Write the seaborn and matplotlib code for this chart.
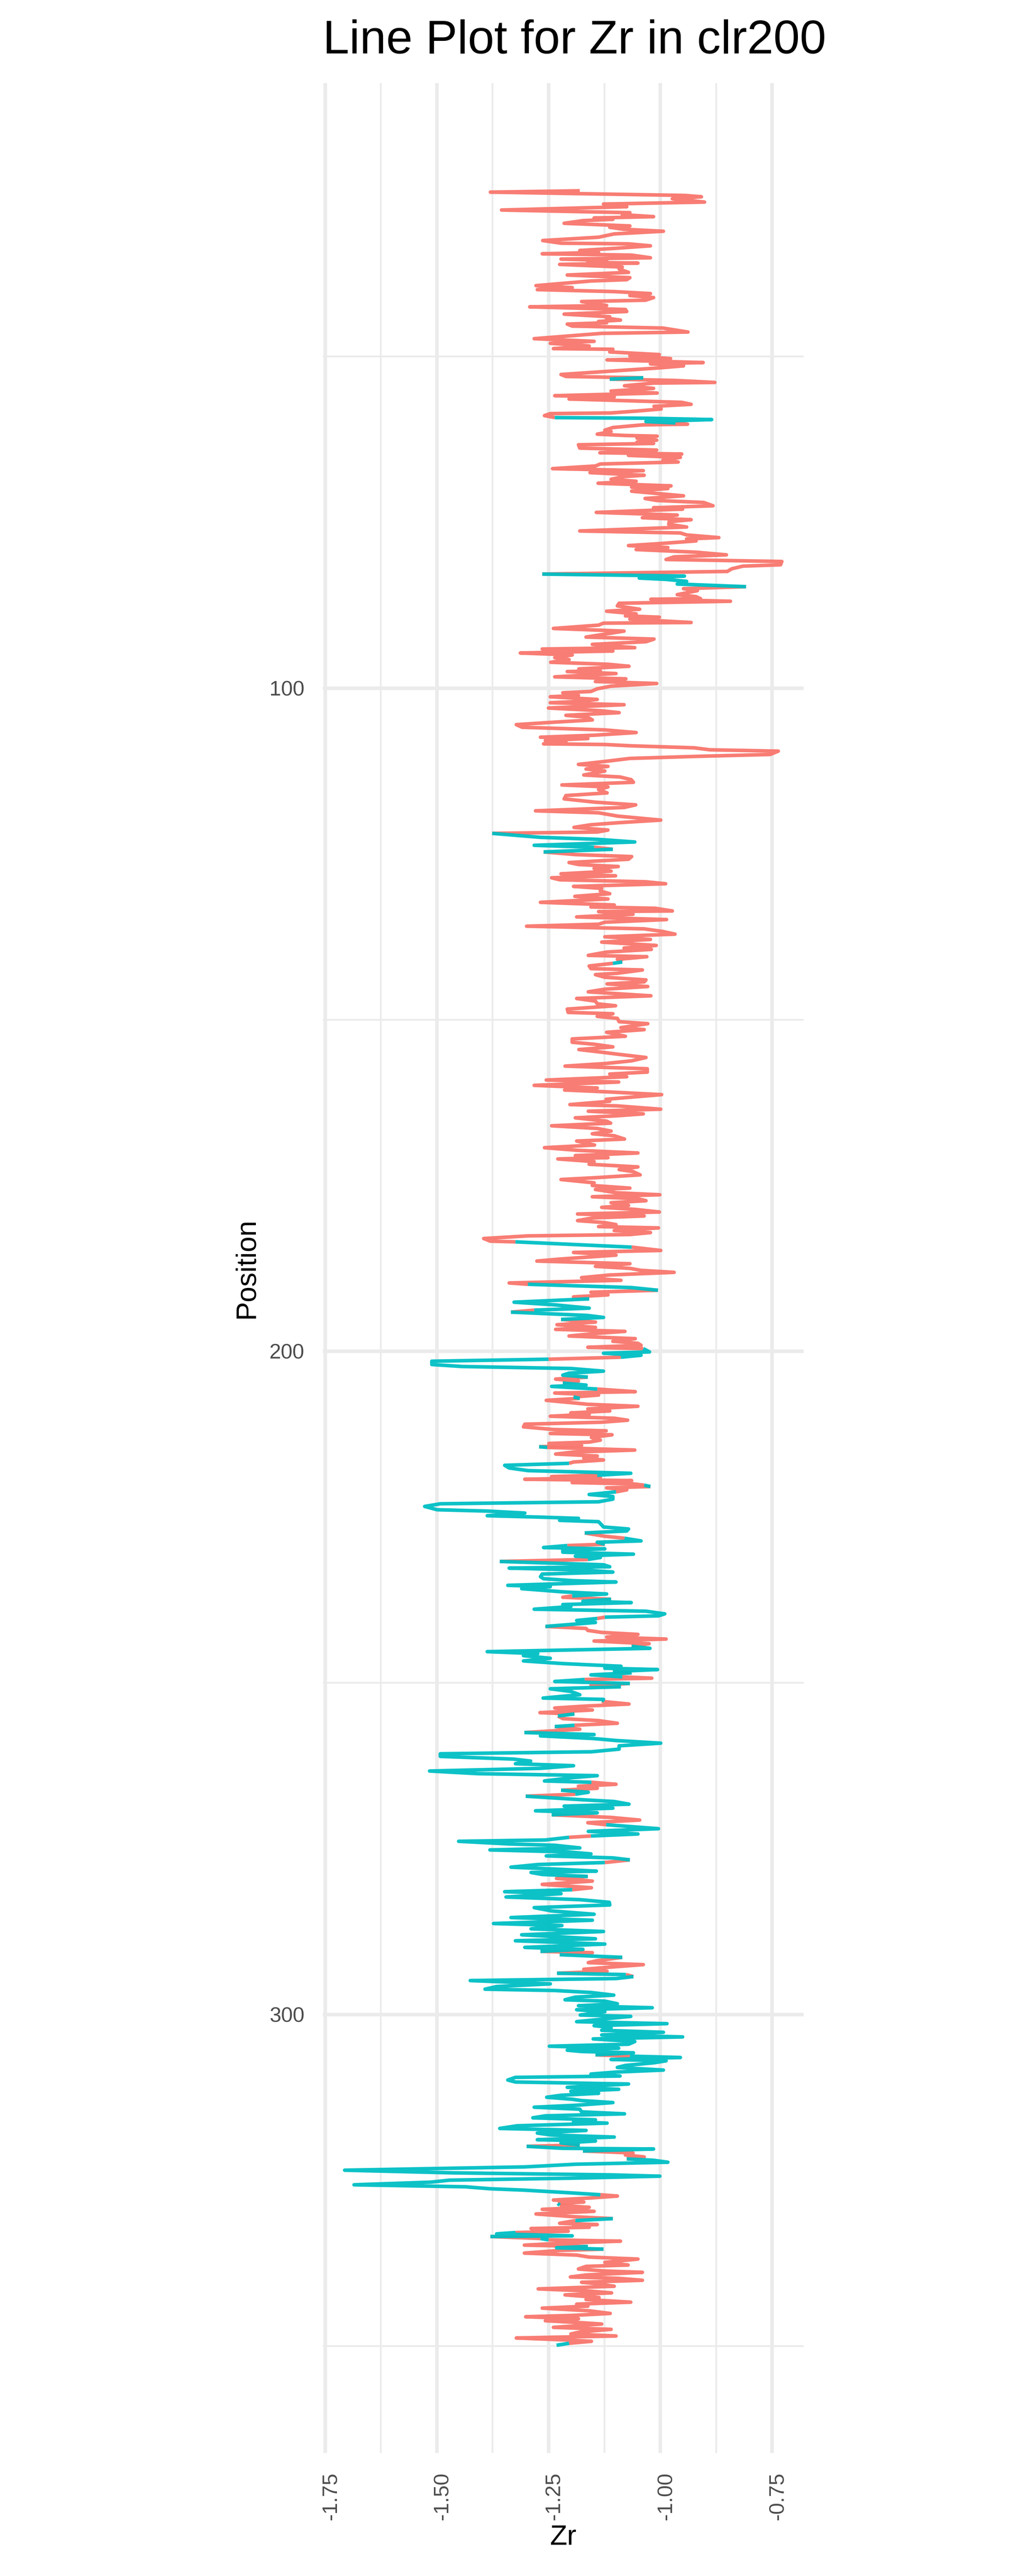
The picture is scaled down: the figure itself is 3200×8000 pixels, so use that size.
import matplotlib
matplotlib.use("Agg")
import matplotlib.pyplot as plt
import matplotlib.transforms as mtransforms
from matplotlib.ticker import MultipleLocator, FormatStrFormatter
import pandas as pd
import seaborn as sns

# --- data, top to bottom ---
# section codes: "a" = first section (red), "b" = second section (teal)

depth_1 = [25.0, 25.2, 25.7, 25.9, 26.2, 26.7, 27.0, 27.4, 27.9, 28.3,
           28.6, 28.9, 29.1, 29.3, 29.5, 29.9, 30.3, 30.5, 30.8, 31.1,
           31.5, 32.0, 32.5, 32.9, 33.0, 33.3, 33.7, 34.0, 34.3, 34.5,
           34.7, 35.1, 35.3, 35.5, 35.8, 35.9, 36.1, 36.5, 36.8, 37.3,
           37.7, 38.1, 38.4, 38.6, 39.3, 39.6, 39.9, 40.2, 40.5, 40.8,
           41.1, 41.5, 41.7, 42.3, 42.5, 42.9, 43.2, 43.6, 44.0, 44.2,
           44.5, 44.7, 44.9, 45.1, 45.4, 45.7, 46.3, 46.5, 47.3, 47.7,
           48.0, 48.4, 48.8, 48.9, 49.3, 49.7, 49.9, 50.3, 50.5, 50.9,
           51.1, 51.4, 51.7, 52.7, 53.0, 53.2, 53.4, 53.6, 53.9, 54.0,
           54.4, 54.8, 55.2, 55.5, 55.9, 56.1, 56.4, 56.9, 57.2]
zr_1 = [-1.180, -1.380, -0.945, -0.908, -0.973, -0.901, -1.127, -1.075, -1.355, -1.068,
        -1.085, -1.015, -1.148, -1.106, -1.173, -1.215, -1.068, -1.113, -1.082, -0.993,
        -1.103, -1.138, -1.263, -1.222, -1.071, -1.022, -1.106, -1.180, -1.138, -1.264,
        -1.064, -1.022, -1.222, -1.120, -1.162, -1.050, -1.225, -1.085, -1.092, -1.071,
        -1.208, -1.068, -1.075, -1.155, -1.278, -1.197, -1.275, -1.103, -1.022, -1.068,
        -1.015, -1.033, -1.176, -1.120, -1.292, -1.078, -1.075, -1.215, -1.113, -1.120,
        -1.089, -1.138, -1.120, -1.208, -1.197, -0.994, -0.938, -1.131, -1.282, -1.148,
        -1.246, -1.159, -1.239, -1.106, -1.113, -1.002, -1.068, -0.977, -1.119, -0.904,
        -1.022, -0.948, -1.001, -1.222, -1.211, -1.038, -1.113, -0.966, -0.878, -1.015,
        -1.080, -1.015, -1.110, -1.007, -1.236, -1.103, -1.204, -0.952, -0.931]
section_1 = ("aaaaaaaaaa" "aaaaaaaaaa" "aaaaaaaaaa" "aaaaaaaaaa" "aaaaaaaaaa"
             "aaaaaaaaaa" "aaaaaaaaaa" "aaaaaaaaaa" "aaaaabaaaa" "aaaaaaaaa")

depth_2 = [57.5, 57.9, 58.2, 58.5, 58.6, 58.9, 59.2, 59.3, 59.5, 59.8,
           60.0, 60.2, 60.3, 60.7, 61.1, 61.3, 61.7, 61.9, 62.0, 62.3,
           62.6, 62.9, 63.1, 63.3, 63.8, 64.1, 64.5, 64.7, 64.9, 65.2,
           65.6, 65.9, 66.2, 66.5, 66.9, 67.2, 67.5, 67.9, 68.1, 68.5,
           68.8, 69.1, 69.5, 69.7, 69.9, 70.3, 70.6, 71.0, 71.4, 71.7,
           72.0, 72.5, 72.8, 73.0, 73.5, 73.7, 73.9, 74.3, 74.6, 74.9,
           75.3, 75.7, 76.3, 76.6, 76.9, 77.3, 77.5, 77.8, 78.2, 78.5,
           78.8, 79.1, 79.5, 79.9, 80.2, 80.6, 80.9, 81.4, 81.6, 82.0,
           82.4, 82.8, 83.1, 83.4, 83.6, 83.9, 84.3, 84.7, 85.0, 85.3,
           85.9, 86.2, 86.5, 86.6, 86.9, 87.2, 87.6, 88.1, 88.4, 88.8,
           89.1, 89.3, 89.6, 90.1, 90.2, 90.5, 91.0, 91.4]
zr_2 = [-1.014, -0.998, -1.050, -1.110, -1.246, -1.259, -1.236, -1.029, -0.885, -1.032,
        -0.966, -0.939, -1.040, -1.106, -1.124, -1.110, -1.141, -1.078, -1.007, -1.052,
        -1.008, -1.052, -1.015, -1.183, -1.180, -1.008, -1.135, -0.952, -1.071, -0.955,
        -0.994, -0.960, -1.134, -1.145, -1.241, -1.038, -1.157, -1.036, -1.082, -1.110,
        -1.054, -1.139, -0.976, -1.064, -0.983, -1.064, -1.015, -0.948, -1.034, -1.008,
        -0.903, -0.882, -1.015, -0.950, -1.143, -1.050, -0.962, -1.040, -0.931, -0.980,
        -0.981, -0.941, -1.180, -0.955, -0.941, -0.869, -0.941, -0.920, -1.001, -1.071,
        -0.983, -1.054, -0.920, -0.852, -0.969, -0.987, -0.728, -0.731, -0.815, -0.840,
        -0.850, -1.264, -0.946, -1.047, -0.987, -0.941, -0.962, -0.808, -0.948, -0.917,
        -0.962, -0.920, -0.910, -1.021, -0.843, -1.092, -1.096, -1.046, -1.120, -1.054,
        -1.078, -1.002, -1.068, -0.931, -1.127, -1.138, -1.239, -1.081]
section_2 = ("aaaaaabbbb" "aaaaaaaaaa" "aaaaaaaaaa" "aaaaaaaaaa" "aaaaaaaaaa"
             "aaaaaaaaaa" "aaaaaaaaaa" "aaaaaaaaaa" "abbbbbbaaa" "aaaaaaaaaa"
             "aaaaaaaa")

depth_3 = [92.3, 92.6, 93.0, 93.4, 93.9, 94.1, 94.4, 94.7, 95.0, 95.4,
           95.7, 96.1, 96.4, 96.7, 97.1, 97.4, 97.5, 97.8, 98.3, 98.6,
           99.0, 99.3, 99.7, 100.1, 100.5, 100.7, 101.1, 101.3, 101.7, 102.0,
           102.2, 102.5, 103.0, 103.4, 103.7, 104.1, 104.4, 104.8, 105.1, 105.5,
           105.9, 106.3, 106.7, 107.1, 107.4, 107.6, 107.9, 108.1, 108.4, 108.5,
           108.7, 109.0, 109.3, 109.5, 110.0, 110.3, 110.6, 111.0, 111.5, 111.8,
           112.2, 112.5, 113.1, 113.4, 113.8, 114.2, 114.6, 114.9, 115.3, 115.8,
           116.2, 116.7, 117.2, 117.6, 118.0, 118.5, 118.8, 119.3, 119.9, 120.3,
           120.6, 121.0, 121.4, 121.7, 121.9, 122.5, 122.8, 123.2, 123.7, 124.0,
           124.3, 124.7, 125.1, 125.4, 125.8, 126.3, 126.6, 126.9, 127.2, 127.6,
           128.0, 128.3, 128.6, 128.9, 129.2, 129.5, 129.9, 130.2, 130.6, 131.0,
           131.4, 131.8, 132.3, 132.7, 133.0, 133.2, 133.6, 133.7, 134.1, 134.5,
           134.9, 135.3, 135.6, 135.9, 136.3, 136.7, 137.1, 137.5, 137.9, 138.3,
           138.8, 139.2]
zr_3 = [-1.166, -1.014, -1.032, -1.152, -1.057, -1.264, -1.106, -1.313, -1.197, -1.236,
        -1.204, -1.245, -1.117, -1.070, -1.182, -1.134, -1.208, -1.099, -1.236, -1.077,
        -1.145, -1.008, -1.110, -1.141, -1.155, -1.218, -1.183, -1.246, -1.141, -1.180,
        -1.246, -1.081, -1.250, -1.134, -1.092, -1.211, -1.162, -1.152, -1.229, -1.322,
        -1.309, -1.124, -1.054, -1.148, -1.268, -1.162, -1.257, -1.211, -1.261, -1.124,
        -1.064, -0.924, -0.889, -0.736, -0.754, -0.924, -1.068, -1.117, -1.183, -1.117,
        -1.166, -1.124, -1.171, -1.090, -1.065, -1.060, -1.220, -1.117, -1.138, -1.119,
        -1.211, -1.215, -1.145, -1.055, -1.081, -1.279, -1.138, -1.095, -0.999, -1.095,
        -1.155, -1.193, -1.117, -1.141, -1.376, -1.268, -1.141, -1.057, -1.282, -1.148,
        -1.106, -1.261, -1.190, -1.064, -1.071, -1.204, -1.183, -1.094, -1.148, -1.110,
        -1.222, -1.100, -1.243, -1.225, -1.033, -0.988, -1.194, -1.131, -1.134, -1.113,
        -1.191, -1.117, -1.268, -1.103, -1.155, -1.011, -0.973, -1.138, -1.061, -1.187,
        -0.986, -1.124, -1.138, -1.299, -1.036, -0.994, -0.967, -1.124, -1.022, -1.131,
        -1.009, -1.081]
section_3 = ("aaaaaaaaaa" "aaaaaaaaaa" "aaaaaaaaaa" "aaaaaaaaaa" "aaaaaaaaaa"
             "aaaaaaaaaa" "aaaaaaaaaa" "aaaaaaaaaa" "aaaabbbbba" "baaaaaaaaa"
             "aaaaaaaaaa" "aaaaaaaaaa" "aaaaaaaaaa" "aa")

depth_4 = [139.4, 139.8, 140.3, 140.5, 140.9, 141.3, 141.5, 141.9, 142.3, 142.5,
           143.0, 143.2, 143.6, 144.0, 144.3, 144.6, 145.0, 145.4, 145.8, 146.4,
           146.8, 147.2, 147.6, 147.9, 148.4, 148.9, 149.1, 149.5, 149.8, 150.3,
           150.6, 151.2, 151.5, 151.9, 152.5, 152.9, 153.4, 153.7, 154.1, 154.5,
           154.9, 155.2, 155.7, 156.2, 156.6, 157.0, 157.4, 157.9, 158.2, 158.6,
           159.1, 159.4, 159.9, 160.3, 160.6, 160.9, 161.3, 161.7, 162.0, 162.3,
           162.8, 163.0, 163.5, 163.8, 164.2, 164.5, 164.8, 165.3, 165.6, 166.0,
           166.4, 166.8, 167.2, 167.5, 168.0, 168.3, 168.9, 169.3, 169.7, 170.1,
           170.5, 170.8, 171.0, 171.4, 171.8, 172.2, 172.6, 172.9, 173.4, 173.8,
           174.1, 174.6, 175.0, 175.4, 175.6, 176.1, 176.4, 176.7, 177.0, 177.3,
           177.6, 178.0, 178.3, 178.6, 179.0, 179.3, 179.6, 179.9, 180.3, 180.6,
           180.9, 181.2, 181.4, 181.8, 182.1, 182.4, 182.6, 183.0, 183.4, 183.5,
           184.3, 184.8, 185.1, 185.5, 186.1, 186.4, 186.8, 187.2]
zr_4 = [-1.020, -1.120, -1.161, -1.030, -1.096, -1.085, -1.106, -1.159, -1.155, -1.040,
        -1.096, -1.145, -1.124, -1.032, -1.036, -1.119, -1.028, -1.124, -1.161, -1.021,
        -1.187, -1.145, -1.141, -1.100, -1.208, -1.206, -1.106, -1.141, -1.096, -1.092,
        -1.028, -1.088, -1.036, -1.120, -1.078, -1.197, -1.197, -1.148, -1.106, -1.182,
        -1.131, -1.096, -1.032, -1.064, -1.121, -1.213, -1.029, -1.029, -1.113, -1.075,
        -1.255, -1.093, -1.282, -1.141, -1.214, -1.113, -0.997, -1.068, -1.121, -1.113,
        -1.202, -1.096, -0.999, -1.161, -1.038, -1.099, -1.190, -1.120, -1.111, -1.243,
        -1.141, -1.110, -1.152, -1.103, -1.080, -1.187, -1.147, -1.259, -1.185, -1.050,
        -1.190, -1.117, -1.229, -1.148, -1.159, -1.050, -1.092, -1.061, -1.045, -1.138,
        -1.222, -1.148, -1.152, -1.068, -1.145, -1.098, -1.001, -1.152, -1.050, -1.032,
        -1.110, -1.071, -1.131, -1.057, -1.002, -1.185, -1.036, -1.152, -1.185, -1.124,
        -1.099, -1.138, -1.004, -1.103, -1.022, -1.068, -1.296, -1.395, -1.380, -1.324,
        -1.064, -0.999, -1.194, -1.099, -1.225, -1.276, -1.068, -1.145]
section_4 = ("aaaaabaaaa" "aaaaaaaaaa" "aaaaaaaaaa" "aaaaaaaaaa" "aaaaaaaaaa"
             "aaaaaaaaaa" "aaaaaaaaaa" "aaaaaaaaaa" "aaaaaaaaaa" "aaaaaaaaaa"
             "aaaaaaaaaa" "aaaaaaaaab" "aaaaaaaa")

depth_5 = [187.5, 187.8, 188.1, 188.5, 188.9, 189.3, 189.7, 189.9, 190.4, 190.8,
           191.1, 191.5, 191.8, 192.1, 192.6, 193.0, 193.5, 193.8, 194.1, 194.6,
           194.9, 195.2, 195.6, 196.0, 196.4, 196.7, 197.0, 197.3, 197.7, 198.1,
           198.5, 198.8, 199.1, 199.4, 199.6, 200.1, 200.3, 200.6, 200.9, 201.2,
           201.5, 202.0, 202.3, 202.6, 203.0, 203.3, 203.6, 203.9, 204.2, 204.5,
           204.8, 205.1, 205.3, 205.7, 206.1, 206.3, 206.6, 206.9, 207.1, 207.4,
           207.8, 208.0, 208.3, 208.7, 209.0, 209.3, 209.5, 209.8, 210.1, 210.4,
           210.7, 211.0, 211.4, 211.8, 212.0, 212.4, 212.6, 213.0, 213.4, 213.7,
           213.9, 214.2, 214.4, 214.5, 214.9, 215.2, 215.5, 215.8, 216.1, 216.4,
           216.7, 216.9, 217.2, 217.6, 218.0, 218.2, 218.4, 218.7, 218.9, 219.1,
           219.3, 219.5, 219.8, 220.0, 220.2, 220.4, 220.6, 220.9, 221.2, 221.6,
           221.9, 222.3, 222.7, 223.0, 223.4, 223.9, 224.1, 224.4, 224.8, 225.0,
           225.2, 225.5, 225.7, 226.2, 226.5, 226.8, 227.1, 227.4, 227.9, 228.2,
           228.6, 228.8, 229.1, 229.3, 229.6, 229.8, 230.0, 230.3, 230.6, 230.9,
           231.1, 231.4, 231.7, 232.2, 232.5, 232.7, 233.0, 233.3, 233.6, 234.0,
           234.3, 234.6, 234.8, 235.3]
zr_5 = [-1.068, -1.043, -0.969, -1.113, -1.176, -1.088, -1.338, -1.296, -1.064, -1.005,
        -1.155, -1.117, -1.194, -1.159, -1.327, -1.236, -1.159, -1.282, -1.334, -1.163,
        -1.127, -1.222, -1.145, -1.231, -1.145, -1.234, -1.079, -1.141, -1.204, -1.056,
        -1.106, -1.050, -1.043, -1.162, -1.038, -1.024, -1.127, -1.043, -1.088, -1.250,
        -1.511, -1.511, -1.443, -1.200, -1.127, -1.204, -1.218, -1.162, -1.234, -1.183,
        -1.218, -1.166, -1.243, -1.141, -1.056, -1.236, -1.138, -1.194, -1.180, -1.255,
        -1.192, -1.162, -1.050, -1.162, -1.113, -1.200, -1.159, -1.246, -1.103, -1.073,
        -1.131, -1.303, -1.306, -1.239, -1.121, -1.246, -1.108, -1.154, -1.134, -1.159,
        -1.249, -1.176, -1.271, -1.253, -1.057, -1.194, -1.234, -1.141, -1.171, -1.127,
        -1.194, -1.204, -1.348, -1.338, -1.296, -1.183, -1.066, -1.141, -1.243, -1.134,
        -1.303, -1.064, -1.197, -1.060, -1.036, -1.022, -1.120, -1.075, -1.099, -1.159,
        -1.106, -1.106, -1.138, -1.492, -1.527, -1.499, -1.387, -1.303, -1.387, -1.275,
        -1.183, -1.225, -1.138, -1.131, -1.127, -1.071, -1.075, -1.169, -1.124, -1.080,
        -1.043, -1.141, -1.124, -1.208, -1.261, -1.124, -1.218, -1.218, -1.060, -1.190,
        -1.134, -1.162, -1.359, -1.127, -1.113, -1.338, -1.169, -1.106, -1.264, -1.268,
        -1.261, -1.194, -1.099, -1.341]
section_5 = ("aaaaaaabba" "aaabbbbabb" "baaaaaaaaa" "aaaabbbbab" "bbbbbbbaaa"
             "bbbaaaabaa" "aaaaaaaaaa" "aaaaaaaaaa" "aabaaaaaaa" "abbbbbbaaa"
             "aaaabaaabb" "bbbbbbbbbb" "bbbbbbbaab" "bbabbbbbbb" "babbbbbbbb"
             "bbbb")

depth_6 = [235.5, 235.8, 236.3, 236.6, 236.9, 237.1, 237.4, 237.7, 237.9, 238.2,
           238.5, 238.9, 239.2, 239.6, 239.9, 240.1, 240.3, 240.6, 240.9, 241.5,
           241.8, 242.1, 242.4, 242.7, 243.1, 243.4, 243.7, 244.1, 244.5, 244.8,
           245.3, 245.6, 245.9, 246.3, 246.7, 247.1, 247.3, 247.5, 247.8, 248.0,
           248.3, 248.5, 248.8, 249.1, 249.3, 249.5, 249.8, 250.1, 250.4, 250.6,
           250.9, 251.3, 251.8, 252.3, 252.5, 252.8, 253.2, 253.5, 253.8, 254.1,
           254.5, 254.7, 255.0, 255.4, 255.7, 256.1, 256.4, 256.6, 257.0, 257.5,
           257.8, 258.0, 258.4, 258.7, 259.1, 259.5, 260.0, 260.4, 260.7, 261.1,
           261.5, 261.8, 262.2, 262.5, 262.9, 263.3, 263.7, 264.0, 264.3, 264.8,
           265.0, 265.3, 265.6, 265.9, 266.2, 266.5, 266.8, 267.1, 267.6, 267.9,
           268.3, 268.6, 268.9, 269.3, 269.6, 269.9, 270.3, 270.7, 271.1, 271.4,
           272.0, 272.4, 272.8, 273.1, 273.3, 273.7, 273.9, 274.3, 274.5, 274.9,
           275.2, 275.5, 275.8, 276.1, 276.4, 276.7, 277.1, 277.4, 277.8, 278.1,
           278.4, 278.6, 278.9, 279.2, 279.5, 279.9, 280.4, 280.9, 281.2, 281.5,
           281.8, 282.3, 282.7, 283.1]
zr_6 = [-1.246, -1.310, -1.215, -1.120, -1.197, -1.218, -1.110, -1.173, -1.065, -1.218,
        -1.200, -1.282, -1.032, -0.990, -1.004, -1.124, -1.141, -1.187, -1.145, -1.257,
        -1.166, -1.162, -1.131, -1.050, -1.120, -0.987, -1.148, -1.025, -1.064, -1.023,
        -1.387, -1.274, -1.306, -1.246, -1.306, -1.218, -1.155, -1.088, -1.124, -1.006,
        -1.106, -1.064, -1.155, -1.085, -1.019, -1.169, -1.236, -1.068, -1.155, -1.088,
        -1.246, -1.200, -1.180, -1.262, -1.127, -1.131, -1.070, -1.165, -1.236, -1.152,
        -1.269, -1.192, -1.229, -1.218, -1.138, -1.096, -1.192, -1.236, -1.180, -1.304,
        -1.148, -1.268, -1.150, -1.099, -0.999, -1.092, -1.092, -1.154, -1.492, -1.492,
        -1.329, -1.290, -1.324, -1.194, -1.268, -1.516, -1.408, -1.141, -1.197, -1.259,
        -1.154, -1.099, -1.183, -1.141, -1.222, -1.161, -1.190, -1.301, -1.183, -1.103,
        -1.070, -1.215, -1.106, -1.279, -1.141, -1.243, -1.110, -1.046, -1.162, -1.121,
        -1.004, -1.161, -1.050, -1.155, -1.204, -1.257, -1.451, -1.338, -1.236, -1.180,
        -1.381, -1.208, -1.155, -1.255, -1.106, -1.068, -1.124, -1.273, -1.334, -1.232,
        -1.143, -1.289, -1.264, -1.162, -1.232, -1.152, -1.264, -1.154, -1.197, -1.348,
        -1.222, -1.345, -1.180, -1.114]
section_6 = ("bbbbaabbbb" "bbbbbabbba" "aaaaaaaabb" "bbbbbbbbbb" "abbaabbaab"
             "bbbbbaaaaa" "abaaaabaab" "bbbbbbbbbb" "bbbbbbbbbb" "aaaabbabbb"
             "bbbbbaaaab" "bbbabbbbbb" "bbbbbabbbb" "bbbaaaaabb" "bbbb")

depth_7 = [283.5, 283.9, 284.4, 284.9, 285.4, 285.8, 286.3, 286.6, 287.1, 287.5,
           288.0, 288.6, 288.9, 289.4, 289.9, 290.2, 290.5, 290.7, 291.0, 291.4,
           291.9, 292.2, 292.5, 292.9, 293.2, 293.5, 293.8, 294.0, 294.3, 294.6,
           294.9, 295.4, 295.8, 296.2, 296.4, 296.7, 297.1, 297.4, 297.8, 298.0,
           298.4, 298.7, 299.0, 299.3, 299.6, 300.1, 300.3, 300.7, 301.1, 301.4,
           301.7, 302.0, 302.4, 302.7, 303.1, 303.4, 303.7, 304.1, 304.5, 304.8,
           305.1, 305.4, 305.6, 305.8, 306.1, 306.3, 306.5, 306.8, 307.0, 307.3,
           307.7, 308.0, 308.4, 308.7, 309.0, 309.3, 309.5, 309.9, 310.2, 310.5,
           311.0, 311.3, 311.6, 311.9, 312.2, 312.5, 312.8, 313.0, 313.3, 313.7,
           314.0, 314.3, 314.7, 315.0, 315.3, 315.6, 315.9, 316.2, 316.4, 316.8,
           317.2, 317.5, 317.9, 318.2, 318.5, 318.9, 319.1, 319.4, 319.7, 319.9,
           320.2, 320.3, 320.6, 320.9, 321.2, 321.5, 321.8, 322.0, 322.3, 322.6,
           323.0, 323.5, 323.9, 324.2, 324.4, 324.7, 325.0, 325.3, 325.7, 326.0,
           326.3, 326.5, 326.9, 327.2, 327.4, 327.7, 328.0, 328.3, 328.5, 328.8,
           329.1, 329.4, 329.7, 330.1, 330.5, 330.8, 331.1, 331.5, 331.7]
zr_7 = [-1.113, -1.282, -1.243, -1.148, -1.334, -1.152, -1.373, -1.220, -1.289, -1.127,
        -1.310, -1.145, -1.324, -1.124, -1.303, -1.173, -1.268, -1.152, -1.225, -1.085,
        -1.141, -1.161, -1.038, -1.117, -1.171, -1.119, -1.231, -1.077, -1.060, -1.099,
        -1.425, -1.246, -1.366, -1.392, -1.236, -1.155, -1.104, -1.190, -1.213, -1.124,
        -1.096, -1.183, -1.018, -1.187, -1.124, -1.179, -1.066, -1.127, -1.187, -0.985,
        -1.148, -1.110, -1.131, -0.993, -1.131, -0.950, -1.150, -1.057, -1.071, -1.248,
        -1.093, -1.208, -1.176, -1.060, -1.145, -1.068, -0.955, -1.110, -0.987, -1.014,
        -1.078, -1.096, -0.993, -1.099, -1.155, -1.090, -1.324, -1.341, -1.324, -1.071,
        -1.208, -1.093, -1.200, -1.138, -1.222, -1.254, -1.197, -1.176, -1.106, -1.187,
        -1.282, -1.180, -1.176, -1.080, -1.257, -1.285, -1.145, -1.194, -1.119, -1.320,
        -1.359, -1.166, -1.275, -1.243, -1.103, -1.275, -1.145, -1.222, -1.180, -1.299,
        -1.218, -1.015, -1.173, -1.061, -1.078, -1.036, -1.075, -1.015, -0.983, -1.190,
        -1.303, -1.706, -1.464, -1.113, -1.001, -1.197, -1.471, -1.513, -1.685, -1.436,
        -1.380, -1.306, -1.204, -1.134, -1.096, -1.159, -1.239, -1.171, -1.229, -1.225,
        -1.159, -1.264, -1.148, -1.278, -1.197, -1.106, -1.190, -1.225, -1.141]
section_7 = ("bbbbbbbbbb" "bbbbbbaaba" "aaaaaababb" "bbbbbbbbbb" "bbbbbbbbbb"
             "bbbbbbbbbb" "bbbbabbbbb" "bbbbbbbbbb" "bbbbbbbbbb" "bbbbbbbbbb"
             "bbbbbbbbab" "bbaaaabbbb" "bbbbbbbbbb" "bbbaaaaaba" "aaaaabaaa")

depth_8 = [331.8, 332.1, 332.3, 332.7, 332.9, 333.1, 333.4, 333.5, 333.8, 334.0,
           334.2, 334.5, 334.8, 335.0, 335.2, 335.4, 335.6, 336.0, 336.3, 336.6,
           336.9, 337.4, 337.8, 338.0, 338.4, 338.7, 338.9, 339.3, 339.6, 339.8,
           340.1, 340.4, 340.6, 341.0, 341.4, 341.7, 342.0, 342.3, 342.7, 343.0,
           343.4, 343.7, 344.0, 344.3, 344.7, 345.1, 345.4, 345.6, 345.9, 346.2,
           346.5, 346.7, 347.2, 347.5, 347.9, 348.2, 348.5, 348.8, 349.1, 349.3,
           349.6, 349.9]
zr_8 = [-1.194, -1.159, -1.289, -1.206, -1.324, -1.366, -1.197, -1.380, -1.268, -1.250,
        -1.089, -1.217, -1.304, -1.162, -1.232, -1.127, -1.225, -1.304, -1.187, -1.159,
        -1.050, -1.124, -1.072, -1.166, -1.183, -1.124, -1.040, -1.166, -1.201, -1.095,
        -1.040, -1.176, -1.143, -1.103, -1.273, -1.164, -1.109, -1.213, -1.137, -1.166,
        -1.066, -1.187, -1.162, -1.264, -1.159, -1.112, -1.197, -1.301, -1.183, -1.257,
        -1.176, -1.131, -1.239, -1.110, -1.180, -1.200, -1.099, -1.322, -1.211, -1.154,
        -1.204, -1.232]
section_8 = ("aaaabbbaba" "aaabbaaaaa" "aaaaaaaaaa" "aaaaaaaaaa" "aaaaaaaaaa"
             "aaaaaaaaaa" "ba")

SECTION_LABELS = {"a": "A", "b": "B"}
PALETTE = {"A": "#F8766D", "B": "#00BFC4"}

# --- assemble the path ---
position, zr, section = [], [], []
for d, z, s in [(depth_1, zr_1, section_1), (depth_2, zr_2, section_2),
                (depth_3, zr_3, section_3), (depth_4, zr_4, section_4),
                (depth_5, zr_5, section_5), (depth_6, zr_6, section_6),
                (depth_7, zr_7, section_7), (depth_8, zr_8, section_8)]:
    assert len(d) == len(z) == len(s), (d[0], len(d), len(z), len(s))
    position += d
    zr += z
    section += [SECTION_LABELS[c] for c in s]

# each segment takes the colour of its starting sample (like geom_path),
# so split the path into runs of equal colour that share their end points
runs = []
current = [0]
for i in range(len(position) - 1):
    if i > 0 and section[i] != section[i - 1]:
        runs.append((section[i - 1], current))
        current = [i]
    current.append(i + 1)
runs.append((section[len(position) - 2], current))

rows = []
for run_id, (sec, idx) in enumerate(runs):
    for k in idx:
        rows.append({"run": run_id, "Section": sec,
                     "Position": position[k], "Zr": zr[k]})
path_df = pd.DataFrame(rows)

# --- plot ---
sns.set_theme(style="whitegrid")
plt.rcParams["font.family"] = ["Liberation Sans", "DejaVu Sans"]
plt.rcParams["axes.unicode_minus"] = False

fig = plt.figure(figsize=(16, 40), dpi=200, facecolor="white")
ax = fig.add_axes([0.3134, 0.04775, 0.4669, 0.92])
ax.set_facecolor("white")

sns.lineplot(data=path_df, x="Zr", y="Position", hue="Section", units="run",
             estimator=None, sort=False, palette=PALETTE, linewidth=4.0,
             alpha=0.95, legend=False, ax=ax,
             solid_capstyle="butt", solid_joinstyle="round")

# ggplot-like 5% expansion, position axis running downwards
x_lo, x_hi = min(zr), max(zr)
y_lo, y_hi = min(position), max(position)
ax.set_xlim(x_lo - 0.05 * (x_hi - x_lo), x_hi + 0.05 * (x_hi - x_lo))
ax.set_ylim(y_hi + 0.05 * (y_hi - y_lo), y_lo - 0.05 * (y_hi - y_lo))

ax.xaxis.set_major_locator(MultipleLocator(0.25))
ax.xaxis.set_minor_locator(MultipleLocator(0.125))
ax.xaxis.set_major_formatter(FormatStrFormatter("%.2f"))
ax.yaxis.set_major_locator(MultipleLocator(100))
ax.yaxis.set_minor_locator(MultipleLocator(50))

ax.grid(which="major", color="#EBEBEB", linewidth=4.0)
ax.grid(which="minor", color="#EBEBEB", linewidth=2.0)
ax.set_axisbelow(True)
for spine in ax.spines.values():
    spine.set_visible(False)

ax.tick_params(which="both", length=0)
ax.tick_params(axis="both", labelsize=23.5, labelcolor="#4D4D4D")
ax.tick_params(axis="y", pad=20.5)
ax.tick_params(axis="x", pad=21.6)

shift = mtransforms.ScaledTranslation(-12 / 200, 0, fig.dpi_scale_trans)
for lab in ax.get_xticklabels():
    lab.set_rotation(90)
    lab.set_horizontalalignment("left")
    lab.set_transform(lab.get_transform() + shift)

ax.set_title("Line Plot for Zr in clr200", loc="left", fontsize=53,
             color="black", pad=33)
ax.set_xlabel("Zr", fontsize=31.5, color="black")
ax.set_ylabel("Position", fontsize=31.5, color="black")
ax.xaxis.set_label_coords(0.5, -0.0302)
ax.yaxis.set_label_coords(-0.1315, 0.5)

fig.savefig("out.png", dpi=200, facecolor="white")
